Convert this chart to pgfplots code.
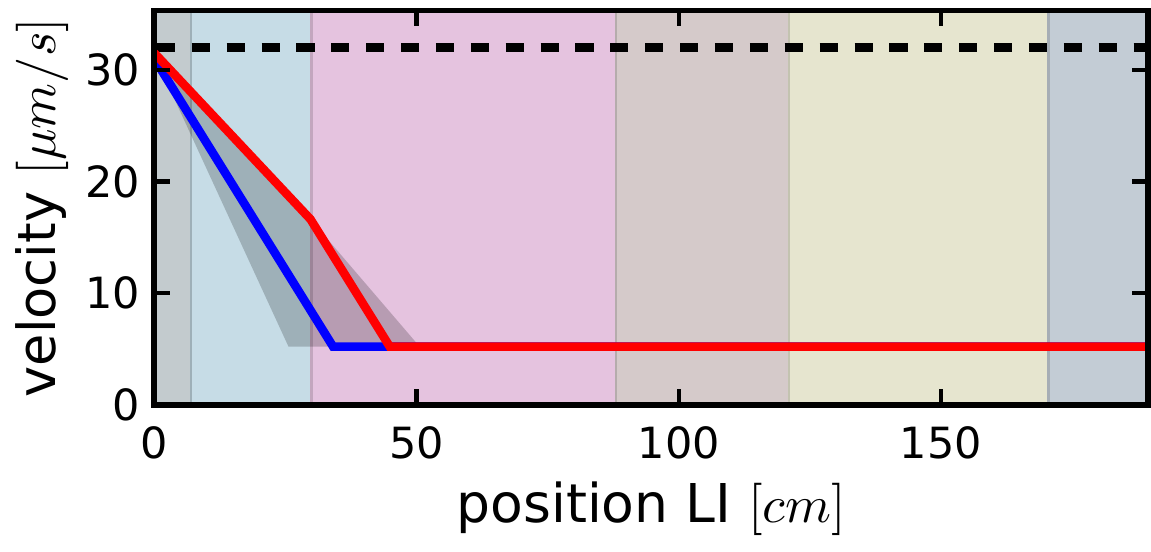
\documentclass[border=0pt]{standalone}
\usepackage{pgfplots}
\pgfplotsset{compat=1.18}
\usepackage{fontspec}
\setmainfont{DejaVu Sans}
\definecolor{rA}{HTML}{C3CBCE}
\definecolor{rB}{HTML}{C6DCE6}
\definecolor{rC}{HTML}{E5C3DF}
\definecolor{rD}{HTML}{D5CACA}
\definecolor{rE}{HTML}{E6E5CF}
\definecolor{rF}{HTML}{C3CCD5}
\begin{document}
\begin{tikzpicture}
\begin{axis}[
  name=ax,
  scale only axis, width=208pt, height=82.5pt,
  xmin=0, xmax=189.5, ymin=0, ymax=35.3,
  xtick={0,50,100,150}, ytick={0,10,20,30},
  tick align=inside, major tick length=3.3pt,
  tick style={black, line width=0.9pt},
  axis line style={line width=1.2pt},
  /pgf/number format/assume math mode=true,
  ticklabel style={font=\fontsize{9}{11}\selectfont},
  yticklabel style={xshift=0.5pt},
  xticklabel style={yshift=-1pt},
  xlabel style={font=\fontsize{11.2}{13}\selectfont, yshift=2pt},
  ylabel style={font=\fontsize{11}{13}\selectfont, yshift=-3.5pt},
  xlabel={position LI $[cm]$}, ylabel={velocity $[\mu m/s]$},
  axis on top,
]
\addplot[draw=rA!80!black, line width=0.5pt, fill=rA] coordinates {(0,40) (7,40)} \closedcycle;
\addplot[draw=rB!80!black, line width=0.5pt, fill=rB] coordinates {(7,40) (30,40)} \closedcycle;
\addplot[draw=rC!85!black, line width=0.5pt, fill=rC] coordinates {(30,40) (88,40)} \closedcycle;
\addplot[draw=rD!85!black, line width=0.5pt, fill=rD] coordinates {(88,40) (121,40)} \closedcycle;
\addplot[draw=rE!85!black, line width=0.5pt, fill=rE] coordinates {(121,40) (170.5,40)} \closedcycle;
\addplot[draw=rF!85!black, line width=0.5pt, fill=rF] coordinates {(170.5,40) (200,40)} \closedcycle;
% uncertainty band
\addplot[draw=none, fill=black, fill opacity=0.2] coordinates {(0,31.3) (29.8,16.6) (50.6,5.2) (25.6,5.2) (0,31.3)};
% reference level
\addplot[black, line width=1.9pt, dash pattern=on 3.8pt off 3.5pt] coordinates {(0.5,32) (189.5,32)};
% blue
\addplot[blue, line width=1.8pt] coordinates {(0,31) (34.1,5.2) (189.5,5.2)};
% red
\addplot[red, line width=1.8pt] coordinates {(0,31.5) (29.8,16.6) (44.9,5.2) (189.5,5.2)};
\end{axis}
\path ([yshift=2.2pt]ax.north);
\end{tikzpicture}
\end{document}
